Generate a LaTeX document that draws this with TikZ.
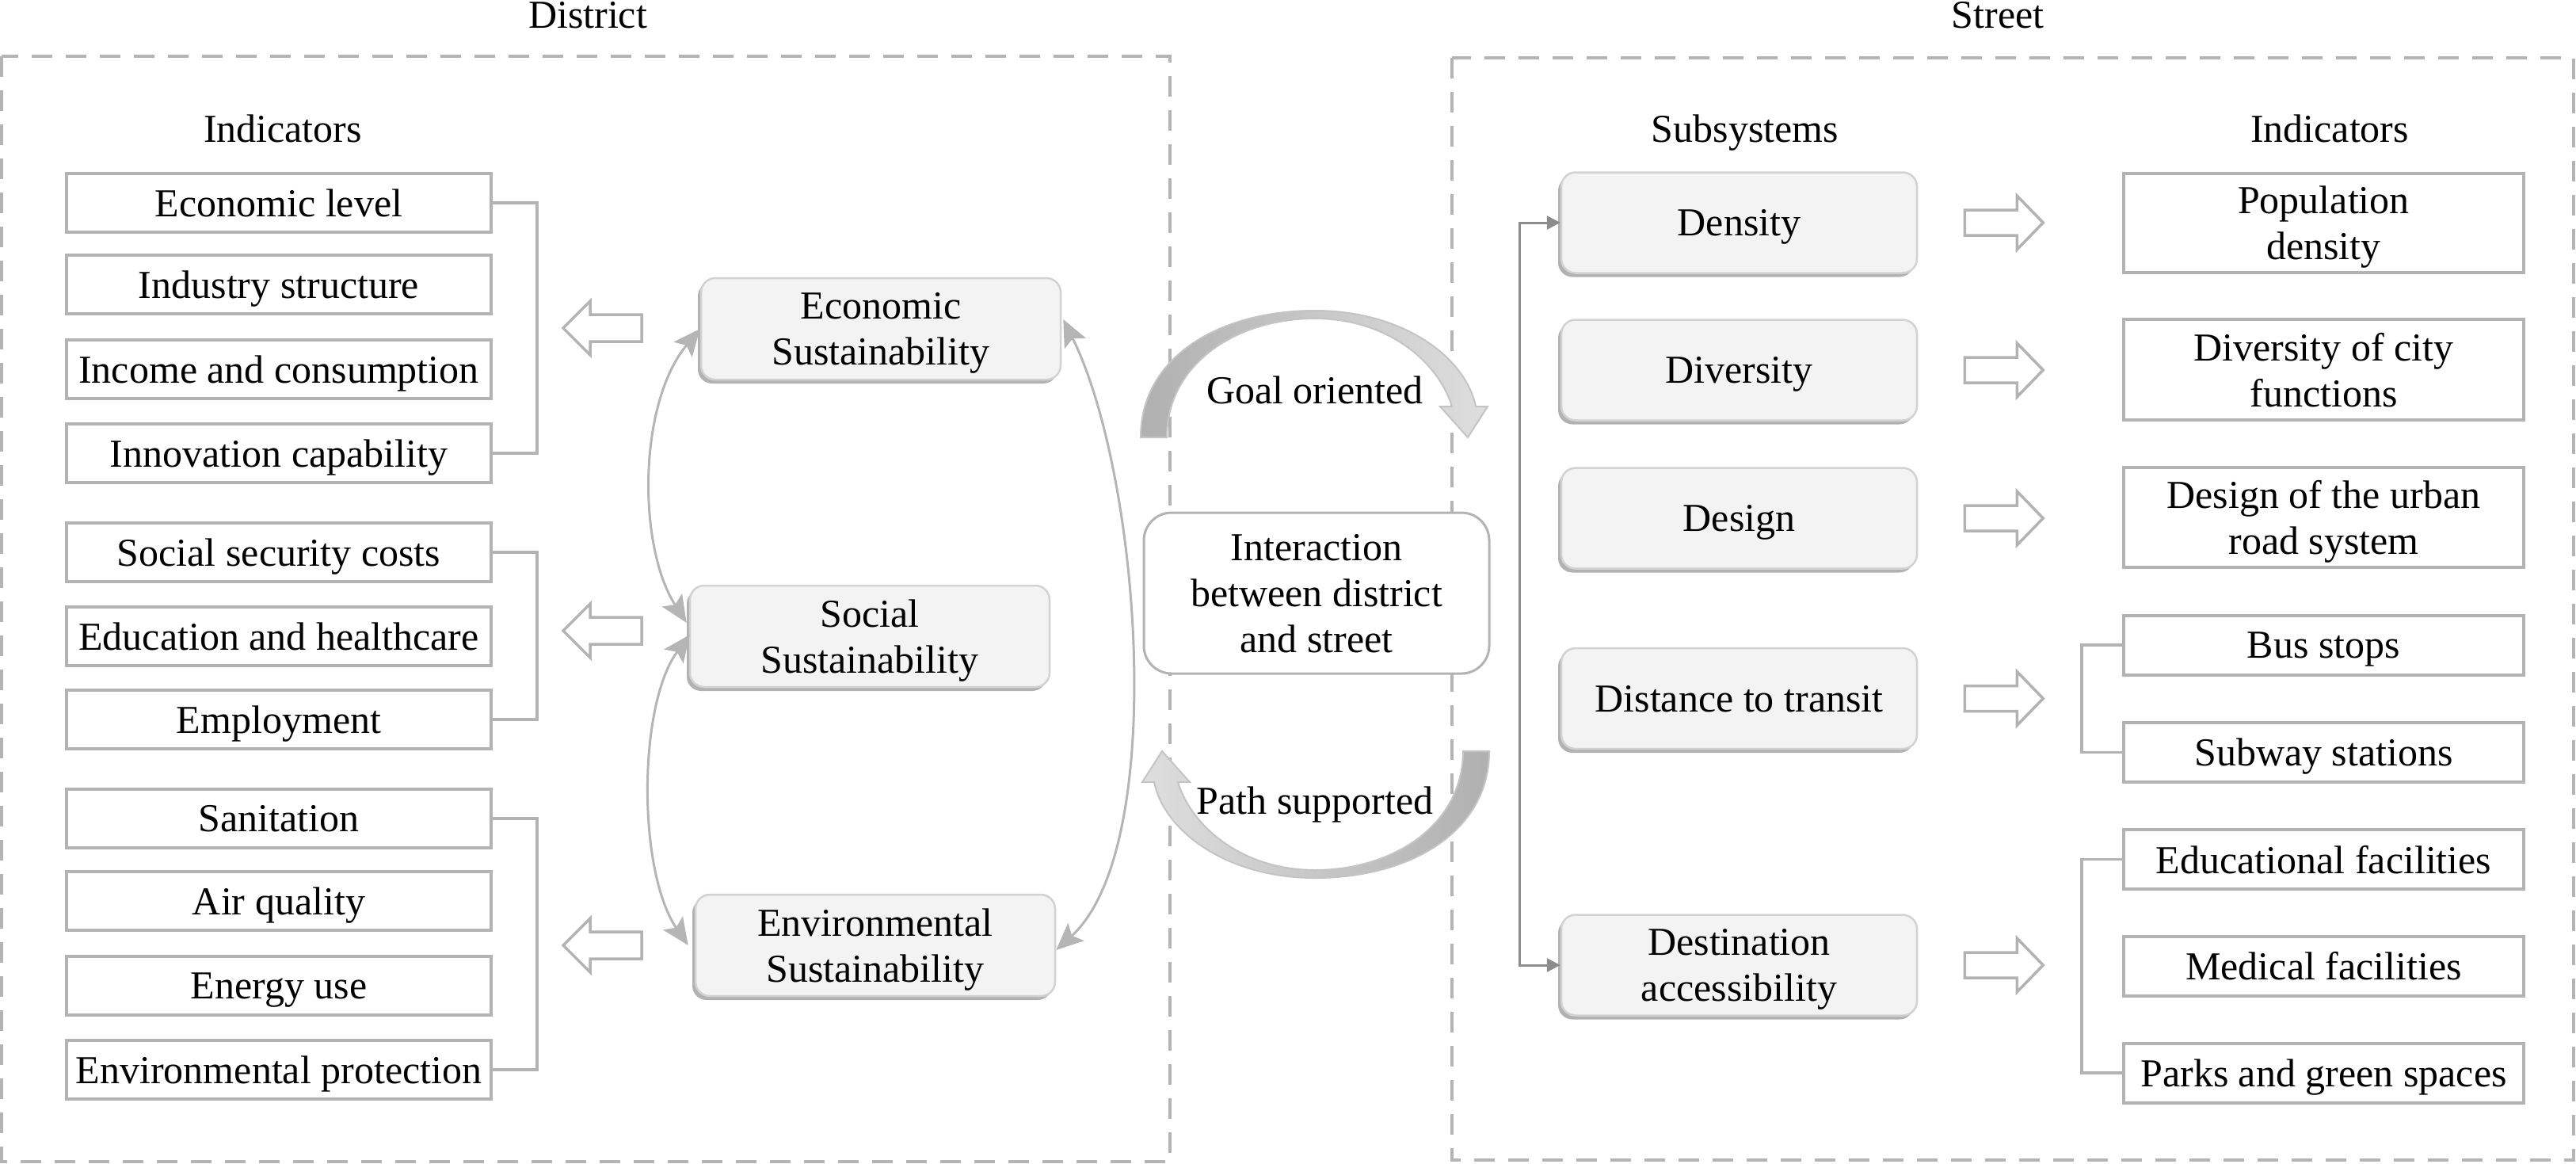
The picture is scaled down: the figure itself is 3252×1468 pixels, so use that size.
\documentclass[tikz,border=0pt]{standalone}
\usepackage{fontspec}
\setmainfont{Liberation Serif}
\usetikzlibrary{arrows.meta,shadows,calc}

\definecolor{lgray}{HTML}{B3B3B3}
\definecolor{dashgray}{HTML}{B4B4B4}
\definecolor{dgray}{HTML}{8C8C8C}
\definecolor{subfill}{HTML}{F3F3F3}
\definecolor{subline}{HTML}{D2D2D2}
\definecolor{arrdark}{HTML}{B0B0B0}
\definecolor{arrlight}{HTML}{DEDEDE}
\definecolor{arrline}{HTML}{C4C4C4}
\definecolor{curvegray}{HTML}{B5B5B5}

\begin{document}
\begin{tikzpicture}[x=1pt,y=-1pt, font=\fontsize{50}{58}\selectfont,
  indbox/.style={draw=lgray, line width=4pt, fill=white, minimum width=536pt,
    minimum height=74pt, inner sep=0pt, align=center, text depth=0pt},
  rindbox/.style={draw=lgray, line width=4pt, fill=white, minimum width=505pt,
    minimum height=75pt, inner sep=0pt, align=center, text depth=0pt},
  subbox/.style={draw=subline, line width=2.5pt, fill=subfill, rounded corners=18pt,
    minimum width=449pt, minimum height=127pt, inner sep=0pt, align=center, text depth=0pt,
    drop shadow={shadow xshift=-4pt, shadow yshift=-5pt, fill=black!55, opacity=0.55}},
  susbox/.style={subbox, minimum width=454pt, minimum height=128pt},
  dashframe/.style={draw=dashgray, line width=3.5pt, dash pattern=on 26pt off 17pt},
  bracket/.style={draw=lgray, line width=3.5pt},
  hollow/.style={draw=lgray, line width=3.5pt, fill=white, line join=miter},
  thinarrow/.style={draw=curvegray, line width=3pt,
    {Stealth[length=34pt,width=30pt,inset=7pt]}-{Stealth[length=34pt,width=30pt,inset=7pt]}},
  vconn/.style={draw=dgray, line width=3pt,
    {Triangle[length=17pt,width=17pt]}-{Triangle[length=17pt,width=17pt]}},
  label/.style={inner sep=0pt, text depth=0pt}
]
\useasboundingbox (0,0) rectangle (3252,1468);

% ---------- frames and titles ----------
\draw[dashframe] (2,71) rectangle (1477,1466);
\draw[dashframe] (1833,73) rectangle (3249,1464);
\node[label, anchor=base] (tdistrict) at (742,35) {District};
\node[label, anchor=base] (tstreet) at (2522,35) {Street};

% ---------- district indicators ----------
\node[label] (lind) at (357,162) {Indicators};
\node[indbox] (e1) at (352,256) {Economic level};
\node[indbox] (e2) at (352,359) {Industry structure};
\node[indbox] (e3) at (352,466) {Income and consumption};
\node[indbox] (e4) at (352,572) {Innovation capability};
\node[indbox] (s1) at (352,697) {Social security costs};
\node[indbox] (s2) at (352,803) {Education and healthcare};
\node[indbox] (s3) at (352,908) {Employment};
\node[indbox] (v1) at (352,1033) {Sanitation};
\node[indbox] (v2) at (352,1137) {Air quality};
\node[indbox] (v3) at (352,1244) {Energy use};
\node[indbox] (v4) at (352,1350) {Environmental protection};

\draw[bracket] (e1.east) -- ++(56,0) |- (e4.east);
\draw[bracket] (s1.east) -- ++(56,0) |- (s3.east);
\draw[bracket] (v1.east) -- ++(56,0) |- (v4.east);

% hollow arrows pointing left
\foreach \c in {414,796,1193}{
  \draw[hollow] (711,\c) -- (745,\c-34) -- (745,\c-17) -- (810,\c-17)
     -- (810,\c+17) -- (745,\c+17) -- (745,\c+34) -- cycle;
}

% ---------- sustainability boxes ----------
\node[susbox] (eco) at (1112,415) {Economic\\Sustainability};
\node[susbox] (soc) at (1098,803) {Social\\Sustainability};
\node[susbox] (env) at (1105,1193) {Environmental\\Sustainability};

\draw[thinarrow] (eco.west) .. controls (805,510) and (805,690) .. ($(soc.west)+(-3,-17)$);
\draw[thinarrow] ($(soc.west)+(1,-2)$) .. controls (805,890) and (805,1100) .. ($(env.west)+(-8,0)$);
\draw[thinarrow] ($(eco.east)+(2,-12)$) .. controls (1440,600) and (1475,1070) .. ($(env.east)+(0,6)$);

% ---------- interaction ----------
\node[draw=lgray, line width=3pt, fill=white, rounded corners=35pt, minimum width=436pt,
  minimum height=203pt, inner sep=0pt, align=center, text depth=0pt] (inter) at (1662,748.5)
  {Interaction\\between district\\and street};

\path[draw=arrline, line width=2pt, left color=arrdark, right color=arrlight]
  (1440,552) .. controls (1440,450) and (1540,392) .. (1660,392)
  .. controls (1770,392) and (1850,450) .. (1863,513)
  -- (1878,513) -- (1853,552) -- (1818,513) -- (1833,513)
  .. controls (1815,455) and (1750,402) .. (1660,402)
  .. controls (1560,402) and (1473,460) .. (1473,552) -- cycle;
\path[draw=arrline, line width=2pt, left color=arrlight, right color=arrdark]
  (1880,948) .. controls (1880,1050) and (1780,1108) .. (1660,1108)
  .. controls (1550,1108) and (1470,1050) .. (1457,987)
  -- (1442,987) -- (1467,948) -- (1502,987) -- (1487,987)
  .. controls (1505,1045) and (1570,1098) .. (1660,1098)
  .. controls (1760,1098) and (1847,1040) .. (1847,948) -- cycle;
\node[label] (goal) at (1660,492) {Goal oriented};
\node[label] (path) at (1660,1010) {Path supported};

% ---------- street ----------
\node[label] (subs) at (2203,162) {Subsystems};
\node[label] (rind) at (2941,162) {Indicators};

\node[subbox] (dens) at (2195.5,281) {Density};
\node[subbox] (div)  at (2195.5,467) {Diversity};
\node[subbox] (des)  at (2195.5,654) {Design};
\node[subbox] (dist) at (2195.5,881.5) {Distance to transit};
\node[subbox] (dest) at (2195.5,1218) {Destination\\accessibility};

\draw[vconn] (dens.west) -- ++(-51,0) |- (dest.west);

\foreach \n in {dens,div,des,dist,dest}{
  \draw[hollow] ($(\n.east)+(59,-16)$) -- ++(66,0) -- ++(0,-18) -- ++(33,34)
     -- ++(-33,34) -- ++(0,-18) -- ++(-66,0) -- cycle;
}

\node[rindbox, minimum height=125pt] (pop) at (2933.5,281.5) {Population\\density};
\node[rindbox, minimum height=127pt] (fun) at (2933.5,466.5) {Diversity of city\\functions};
\node[rindbox, minimum height=126pt] (road) at (2933.5,653) {Design of the urban\\road system};
\node[rindbox] (bus) at (2933.5,814) {Bus stops};
\node[rindbox] (sub) at (2933.5,949.5) {Subway stations};
\node[rindbox] (edu) at (2933.5,1084.5) {Educational facilities};
\node[rindbox] (med) at (2933.5,1219) {Medical facilities};
\node[rindbox] (park) at (2933.5,1354) {Parks and green spaces};

\draw[bracket] (bus.west) -- ++(-51,0) |- (sub.west);
\draw[bracket] (edu.west) -- ++(-51,0) |- (park.west);
\end{tikzpicture}
\end{document}
